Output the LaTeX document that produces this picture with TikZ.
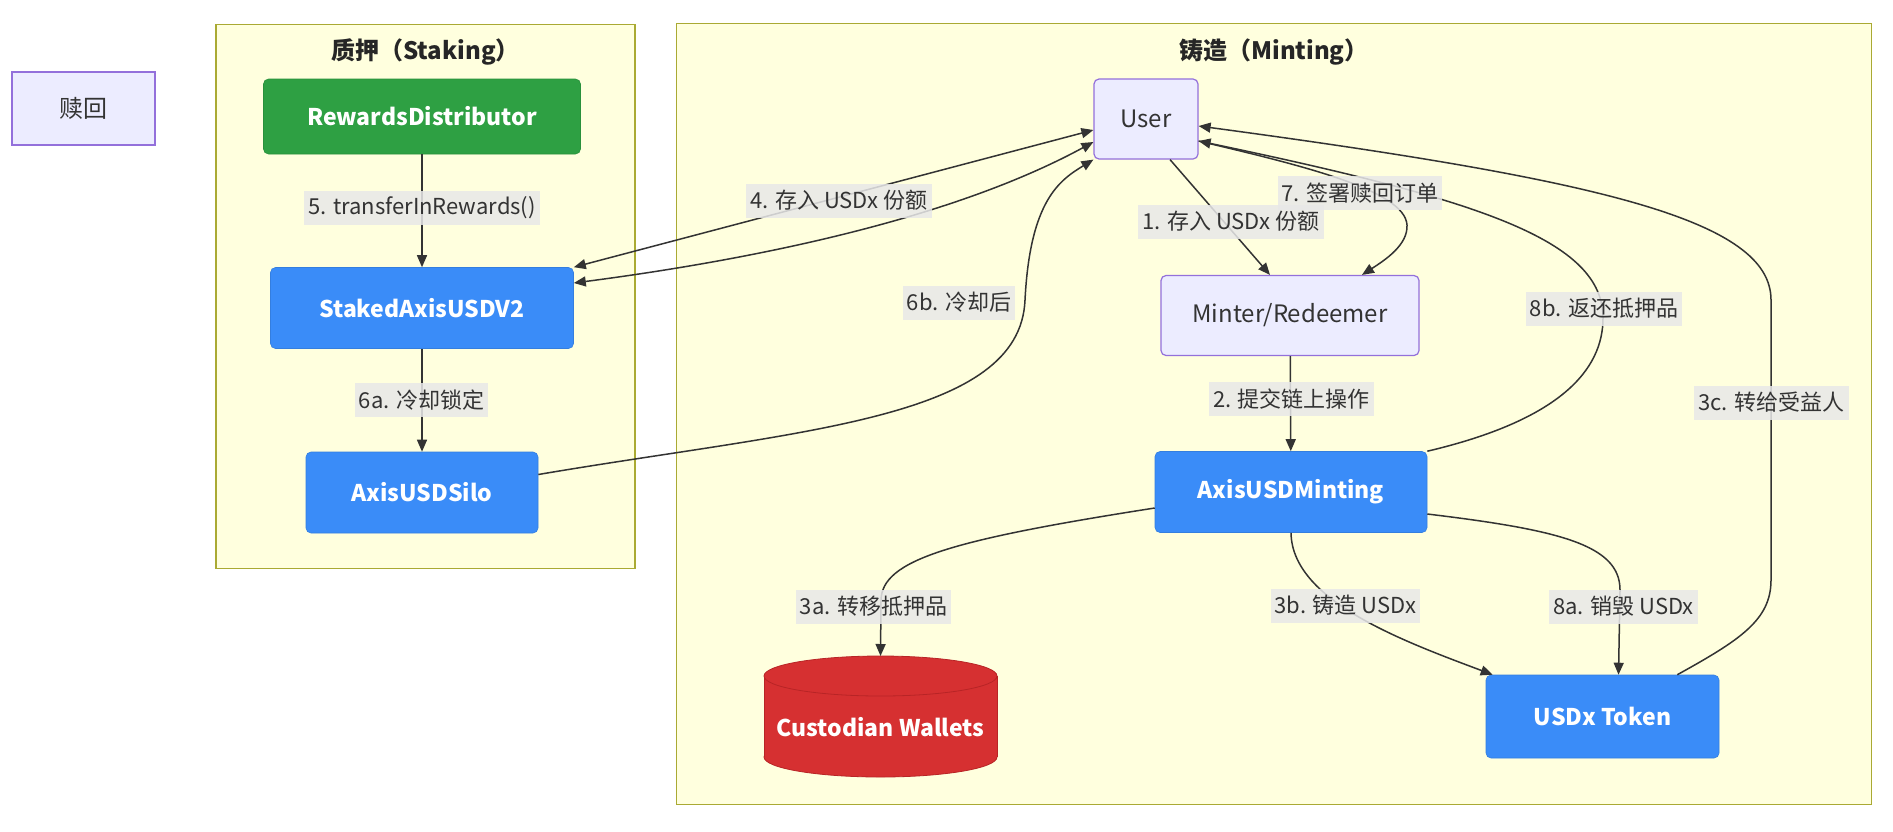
\documentclass[tikz,border=0pt]{standalone}
\usepackage{fontspec}
\setmainfont{Noto Sans CJK SC}
\usetikzlibrary{arrows.meta, calc}

\definecolor{clusterfill}{HTML}{FFFFDE}
\definecolor{clusterline}{HTML}{AAAA33}
\definecolor{userfill}{HTML}{ECECFF}
\definecolor{userline}{HTML}{9370DB}
\definecolor{contractblue}{HTML}{3A8CF8}
\definecolor{rewardgreen}{HTML}{2EA043}
\definecolor{walletred}{HTML}{D63031}
\definecolor{walletline}{HTML}{B82426}
\definecolor{labelgray}{HTML}{E8E8E8}
\definecolor{linegray}{HTML}{333333}

\begin{document}
\begin{tikzpicture}[
    x=0.5pt, y=-0.5pt,
    cluster/.style={draw=clusterline, fill=clusterfill, line width=0.6pt, inner sep=0pt},
    clustertitle/.style={font=\bfseries\fontsize{12}{14}\selectfont, text=black!85},
    basicnode/.style={rounded corners=2.5pt, inner sep=0pt, align=center, draw=userline, fill=userfill, line width=0.6pt, text=linegray, font=\fontsize{12}{14}\selectfont},
    contract/.style={rounded corners=2.5pt, inner sep=0pt, align=center, fill=contractblue, draw=contractblue!90!black, line width=0.3pt, text=white, font=\bfseries\fontsize{11.5}{14}\selectfont},
    reward/.style={contract, fill=rewardgreen, draw=rewardgreen!90!black},
    elabel/.style={fill=labelgray, fill opacity=0.85, text opacity=1, inner xsep=2pt, inner ysep=0pt, minimum height=17pt, font=\fontsize{11}{13}\selectfont, text=linegray},
    conn/.style={draw=linegray, line width=0.75pt, -{Triangle[length=6pt, width=5pt]}},
    both/.style={conn, {Triangle[length=6pt, width=5pt]}-{Triangle[length=6pt, width=5pt]}}
]
    \fill[white] (0,0) rectangle (1893,831);
    \useasboundingbox (0,0) rectangle (1893,831);

    % Clusters
    \node[cluster, minimum width=209.5pt, minimum height=272pt] (staking) at (425.5,296.5) {};
    \node[cluster, minimum width=597.5pt, minimum height=390.5pt] (minting) at (1274,414) {};
    \node[clustertitle] (stakingtitle) at (425.5,52) {质押（Staking）};
    \node[clustertitle] (mintingtitle) at (1274,52) {铸造（Minting）};

    % Nodes
    \node[basicnode, rounded corners=0pt, minimum width=71.5pt, minimum height=36.5pt] (redeem) at (83.5,108.5) {赎回};
    \node[reward, minimum width=158.5pt, minimum height=37.5pt] (rd) at (422,116.5) {RewardsDistributor};
    \node[contract, minimum width=151.5pt, minimum height=40.5pt] (stk) at (422,308) {StakedAxisUSDV2};
    \node[contract, minimum width=116pt, minimum height=40.5pt] (silo) at (422,492.5) {AxisUSDSilo};
    \node[basicnode, minimum width=52pt, minimum height=40pt] (user) at (1146,119) {User};
    \node[basicnode, minimum width=129pt, minimum height=40pt] (minter) at (1290,315.5) {Minter/Redeemer};
    \node[contract, minimum width=136pt, minimum height=40.5pt] (mint) at (1291,492) {AxisUSDMinting};
    \node[contract, minimum width=116.5pt, minimum height=41.5pt] (usdx) at (1602.5,716.5) {USDx Token};

    % Custodian wallets (cylinder)
    \filldraw[fill=walletred, draw=walletline, line width=0.4pt] (880.5,757) ellipse [x radius=58.25pt, y radius=10pt];
    \fill[walletred] (764,676) rectangle (997,757);
    \draw[walletline, line width=0.4pt] (764,676) -- (764,757) (997,676) -- (997,757);
    \filldraw[fill=walletred, draw=walletline, line width=0.4pt] (880.5,676) ellipse [x radius=58.25pt, y radius=10pt];
    \node[text=white, font=\bfseries\fontsize{11.5}{14}\selectfont] (wallets) at (880.5,727) {Custodian Wallets};
    \coordinate (walletstop) at (880.5,656);

    % Connections
    \draw[conn] (rd) -- (stk);
    \draw[conn] (stk) -- (silo);
    \draw[both] (stk.north east) -- ([yshift=-5.5pt]user.west);
    \draw[both] ([yshift=12.5pt]stk.east) .. controls (750,260) and (950,220) .. ([yshift=-11.5pt]user.west);
    \draw[conn] ([yshift=9pt]silo.east) .. controls (800,430) and (1020,420) .. (1025,300) .. controls (1030,200) and (1060,180) .. (user.south west);
    \draw[conn] ([xshift=12pt]user.south) -- ([xshift=-10pt]minter.north);
    \draw[conn] ([yshift=-11pt]user.east) .. controls (1300,165) and (1405,190) .. (1407,225) .. controls (1408,245) and (1385,260) .. ([xshift=36pt]minter.north);
    \draw[conn] (minter) -- (mint);
    \draw[conn] ([yshift=-8pt]mint.west) .. controls (950,540) and (882,560) .. (881,600) -- (walletstop);
    \draw[conn] (mint.south) .. controls (1292,600) and (1400,640) .. ([xshift=3.5pt]usdx.north west);
    \draw[conn] ([yshift=-11pt]mint.east) .. controls (1560,530) and (1620,545) .. (1620,590) -- ([xshift=8pt]usdx.north);
    \draw[conn] (mint.north east) .. controls (1560,420) and (1603,370) .. (1603,318) .. controls (1603,240) and (1480,200) .. ([yshift=-11pt]user.east);
    \draw[conn] ([xshift=-21pt]usdx.north east) .. controls (1740,640) and (1771,620) .. (1771,580) -- (1771,300) .. controls (1771,220) and (1600,180) .. ([yshift=-3.5pt]user.east);

    % Edge labels
    \node[elabel] (l5) at (422,208) {5. transferInRewards()};
    \node[elabel] (l6a) at (421.5,400) {6a. 冷却锁定};
    \node[elabel] (l4) at (839,200.5) {4. 存入 USDx 份额};
    \node[elabel] (l6b) at (959,302.5) {6b. 冷却后};
    \node[elabel] (l1) at (1231,221.5) {1. 存入 USDx 份额};
    \node[elabel] (l7) at (1360,193) {7. 签署赎回订单};
    \node[elabel] (l8b) at (1604,308.5) {8b. 返还抵押品};
    \node[elabel] (l2) at (1291.5,399) {2. 提交链上操作};
    \node[elabel] (l3c) at (1771.5,402.5) {3c. 转给受益人};
    \node[elabel] (l3a) at (873.5,606.5) {3a. 转移抵押品};
    \node[elabel] (l3b) at (1345.5,605.5) {3b. 铸造 USDx};
    \node[elabel] (l8a) at (1623.5,606.5) {8a. 销毁 USDx};
\end{tikzpicture}
\end{document}
